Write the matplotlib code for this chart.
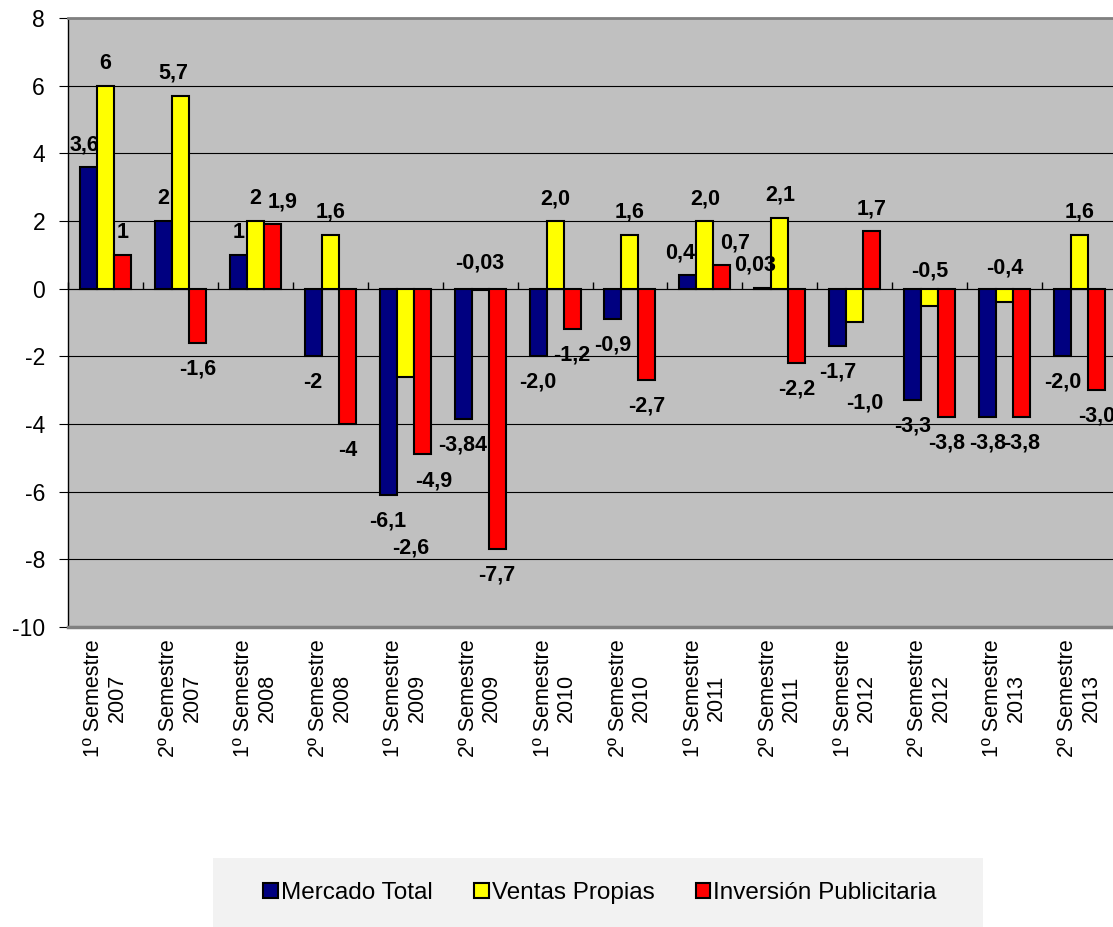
import matplotlib
matplotlib.use("Agg")
import matplotlib.pyplot as plt
import numpy as np
from matplotlib.patches import Rectangle

plt.rcParams['font.family'] = ['Liberation Sans', 'DejaVu Sans']
plt.rcParams['axes.unicode_minus'] = False

categories = ["1º Semestre\n2007", "2º Semestre\n2007", "1º Semestre\n2008", "2º Semestre\n2008",
              "1º Semestre\n2009", "2º Semestre\n2009", "1º Semestre\n2010", "2º Semestre\n2010",
              "1º Semestre\n2011", "2º Semestre\n2011", "1º Semestre\n2012", "2º Semestre\n2012",
              "1º Semestre\n2013", "2º Semestre\n2013"]

series_names = ["Mercado Total", "Ventas Propias", "Inversión Publicitaria"]

mercado_total = [3.6, 2, 1, -2, -6.1, -3.84, -2.0, -0.9, 0.4, 0.03, -1.7, -3.3, -3.8, -2.0]
ventas_propias = [6, 5.7, 2, 1.6, -2.6, -0.03, 2.0, 1.6, 2.0, 2.1, -1.0, -0.5, -0.4, 1.6]
inversion_publicitaria = [1, -1.6, 1.9, -4, -4.9, -7.7, -1.2, -2.7, 0.7, -2.2, 1.7, -3.8, -3.8, -3.0]

mercado_labels = ["3,6", "2", "1", "-2", "-6,1", "-3,84", "-2,0", "-0,9", "0,4", "0,03", "-1,7", "-3,3", "-3,8", "-2,0"]
ventas_labels = ["6", "5,7", "2", "1,6", "-2,6", "-0,03", "2,0", "1,6", "2,0", "2,1", "-1,0", "-0,5", "-0,4", "1,6"]
inversion_labels = ["1", "-1,6", "1,9", "-4", "-4,9", "-7,7", "-1,2", "-2,7", "0,7", "-2,2", "1,7", "-3,8", "-3,8", "-3,0"]

colors = ["#000080", "#FFFF00", "#FF0000"]

# label placement tweaks (style, not data)
label_dy_override = {
    1: {4: -5.06, 5: 0.79, 10: -2.38, 11: 1.02, 12: 1.01},
}
label_dx = {
    0: {0: -0.05, 8: -0.11, 9: -0.10},
    1: {1: -0.09, 4: 0.08, 10: 0.14},
    2: {2: 0.13, 4: 0.15, 8: 0.17},
}

W, H = 1113, 927
fig = plt.figure(figsize=(W / 100, H / 100), dpi=100)
ax = fig.add_axes([68 / W, 1 - 627 / H, (1117 - 68) / W, (627 - 18) / H])
ax.set_facecolor("#C0C0C0")

x = np.arange(len(categories))
bw = 0.227
all_vals = [mercado_total, ventas_propias, inversion_publicitaria]
all_labels = [mercado_labels, ventas_labels, inversion_labels]

ax.set_ylim(-10, 8)
ax.set_xlim(-0.5, len(categories) - 0.5)
ax.set_yticks(np.arange(-10, 9, 2))
ax.yaxis.grid(True, color="black", linewidth=0.8)
ax.set_axisbelow(True)

for s, (vals, labs) in enumerate(zip(all_vals, all_labels)):
    pos = x + (s - 1) * bw
    ax.bar(pos, vals, width=bw, color=colors[s], edgecolor="black", linewidth=1.5,
           label=series_names[s], zorder=3)
    for i, (p, v, t) in enumerate(zip(pos, vals, labs)):
        dy = label_dy_override.get(s, {}).get(i, 0.66 if v >= 0 else -0.77)
        dx = label_dx.get(s, {}).get(i, 0.0)
        ax.text(p + dx, v + dy, t, ha="center", va="center", fontsize=15.5,
                fontweight="bold", color="black", zorder=5, clip_on=False)

# x tick labels
ax.set_xticks(x)
ax.set_xticklabels(categories, rotation=90, fontsize=15.5, multialignment="center",
                   linespacing=1.15)
ax.tick_params(axis="x", length=0, pad=9)
ax.tick_params(axis="y", labelsize=16.5, length=6.5, pad=10, direction="out")

# spines
ax.spines["top"].set_color("#808080")
ax.spines["top"].set_linewidth(2)
ax.spines["bottom"].set_color("#808080")
ax.spines["bottom"].set_linewidth(2.5)
ax.spines["left"].set_color("black")
ax.spines["left"].set_linewidth(1)
ax.spines["right"].set_visible(False)

# category axis at zero with boundary ticks
sec = ax.secondary_xaxis(10 / 18)
sec.set_xticks(np.arange(len(categories) + 1) - 0.5)
sec.set_xticklabels([])
sec.tick_params(axis="x", direction="out", length=5, width=1, color="black")
sec.spines["bottom"].set_color("black")
sec.spines["bottom"].set_linewidth(1.2)

# legend background box
fig.patches.append(Rectangle((213 / W, 0), (983 - 213) / W, (927 - 858) / H,
                             transform=fig.transFigure, facecolor="#F2F2F2",
                             edgecolor="none", zorder=0))
handles, labels = ax.get_legend_handles_labels()
leg = fig.legend(handles, labels, loc="center", bbox_to_anchor=(600 / W, 1 - 893 / H),
                 ncol=3, frameon=False, fontsize=17.5, handlelength=0.6, handleheight=0.6,
                 handletextpad=0.12, columnspacing=1.7)

fig.savefig("out.png", dpi=100, facecolor="white")
